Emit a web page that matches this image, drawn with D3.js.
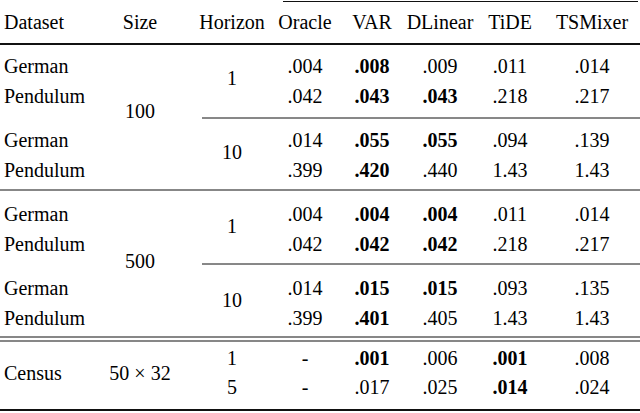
<!DOCTYPE html>
<html><head><meta charset="utf-8">
<script src="https://cdn.jsdelivr.net/npm/d3@7"></script>
<style>body{margin:0;background:#fff} svg text{font-family:"Liberation Serif","Times New Roman","DejaVu Serif",serif}</style>
</head><body>
<div id="chart"></div>
<script>
const columns = ["Dataset", "Size", "Horizon", "Oracle", "VAR", "DLinear", "TiDE", "TSMixer"];
const models = ["Oracle", "VAR", "DLinear", "TiDE", "TSMixer"];
const datasets = ["German", "Pendulum", "German", "Pendulum", "German", "Pendulum", "German", "Pendulum"];
const sizes = ["100", "500"];
const horizons = ["1", "10", "1", "10"];
const values = [
  [".004", ".008", ".009", ".011", ".014"],
  [".042", ".043", ".043", ".218", ".217"],
  [".014", ".055", ".055", ".094", ".139"],
  [".399", ".420", ".440", "1.43", "1.43"],
  [".004", ".004", ".004", ".011", ".014"],
  [".042", ".042", ".042", ".218", ".217"],
  [".014", ".015", ".015", ".093", ".135"],
  [".399", ".401", ".405", "1.43", "1.43"]
];
const bold = [
  [0,1,0,0,0],[0,1,1,0,0],[0,1,1,0,0],[0,1,0,0,0],
  [0,1,1,0,0],[0,1,1,0,0],[0,1,1,0,0],[0,1,0,0,0]
];
const censusHorizons = ["1", "5"];
const censusValues = [["-", ".001", ".006", ".001", ".008"], ["-", ".017", ".025", ".014", ".024"]];
const censusBold = [[0,1,0,1,0],[0,0,0,1,0]];

const W = 640, H = 413;
const svg = d3.select("#chart").append("svg").attr("width", W).attr("height", H)
  .style("font-size", "20px");

const x = d3.scaleOrdinal().domain(columns).range([4, 140, 232, 305, 372, 440, 510, 592]);
// row baselines by row index
const rowY = d3.scaleOrdinal().domain(d3.range(8)).range([73, 103, 147, 177, 221, 251, 295, 325]);

const line = (y, x1, x2, w) => svg.append("line").attr("x1", x1).attr("x2", x2)
  .attr("y1", y).attr("y2", y).attr("stroke", "#111").attr("stroke-width", w);

line(1.5, 283, 638, 1.2);
line(44, 0, 640, 2.2);
line(118, 202, 640, 1);
line(190, 0, 640, 1.2);
line(264, 202, 640, 1);
line(337, 0, 640, 1.2);
line(341, 0, 640, 1.2);
line(410, 0, 640, 2.2);

svg.selectAll("text.head").data(columns).join("text")
  .attr("x", d => x(d)).attr("y", 29)
  .attr("text-anchor", (d, i) => i === 0 ? "start" : "middle")
  .text(d => d);

svg.selectAll("text.ds").data(datasets).join("text")
  .attr("x", x("Dataset")).attr("y", (d, i) => rowY(i)).text(d => d);

svg.selectAll("text.size").data(sizes).join("text")
  .attr("x", x("Size")).attr("y", (d, i) => i === 0 ? 118 : 268)
  .attr("text-anchor", "middle").text(d => d);

svg.selectAll("text.hz").data(horizons).join("text")
  .attr("x", x("Horizon")).attr("y", (d, i) => (rowY(i * 2) + rowY(i * 2 + 1)) / 2 - 3)
  .attr("text-anchor", "middle").text(d => d);

values.forEach((row, r) => {
  svg.selectAll(null).data(row).join("text")
    .attr("x", (d, i) => x(models[i])).attr("y", rowY(r))
    .attr("text-anchor", "middle")
    .attr("font-weight", (d, i) => bold[r][i] ? "bold" : "normal")
    .text(d => d);
});

const censusY = d3.scaleOrdinal().domain([0, 1]).range([365, 394]);
svg.append("text").attr("x", x("Dataset")).attr("y", 380).text("Census");
svg.append("text").attr("x", x("Size")).attr("y", 380).attr("text-anchor", "middle").text("50 × 32");
svg.selectAll("text.chz").data(censusHorizons).join("text")
  .attr("x", x("Horizon")).attr("y", (d, i) => censusY(i))
  .attr("text-anchor", "middle").text(d => d);
censusValues.forEach((row, r) => {
  svg.selectAll(null).data(row).join("text")
    .attr("x", (d, i) => x(models[i])).attr("y", censusY(r))
    .attr("text-anchor", "middle")
    .attr("font-weight", (d, i) => censusBold[r][i] ? "bold" : "normal")
    .text(d => d);
});
</script>
</body></html>
